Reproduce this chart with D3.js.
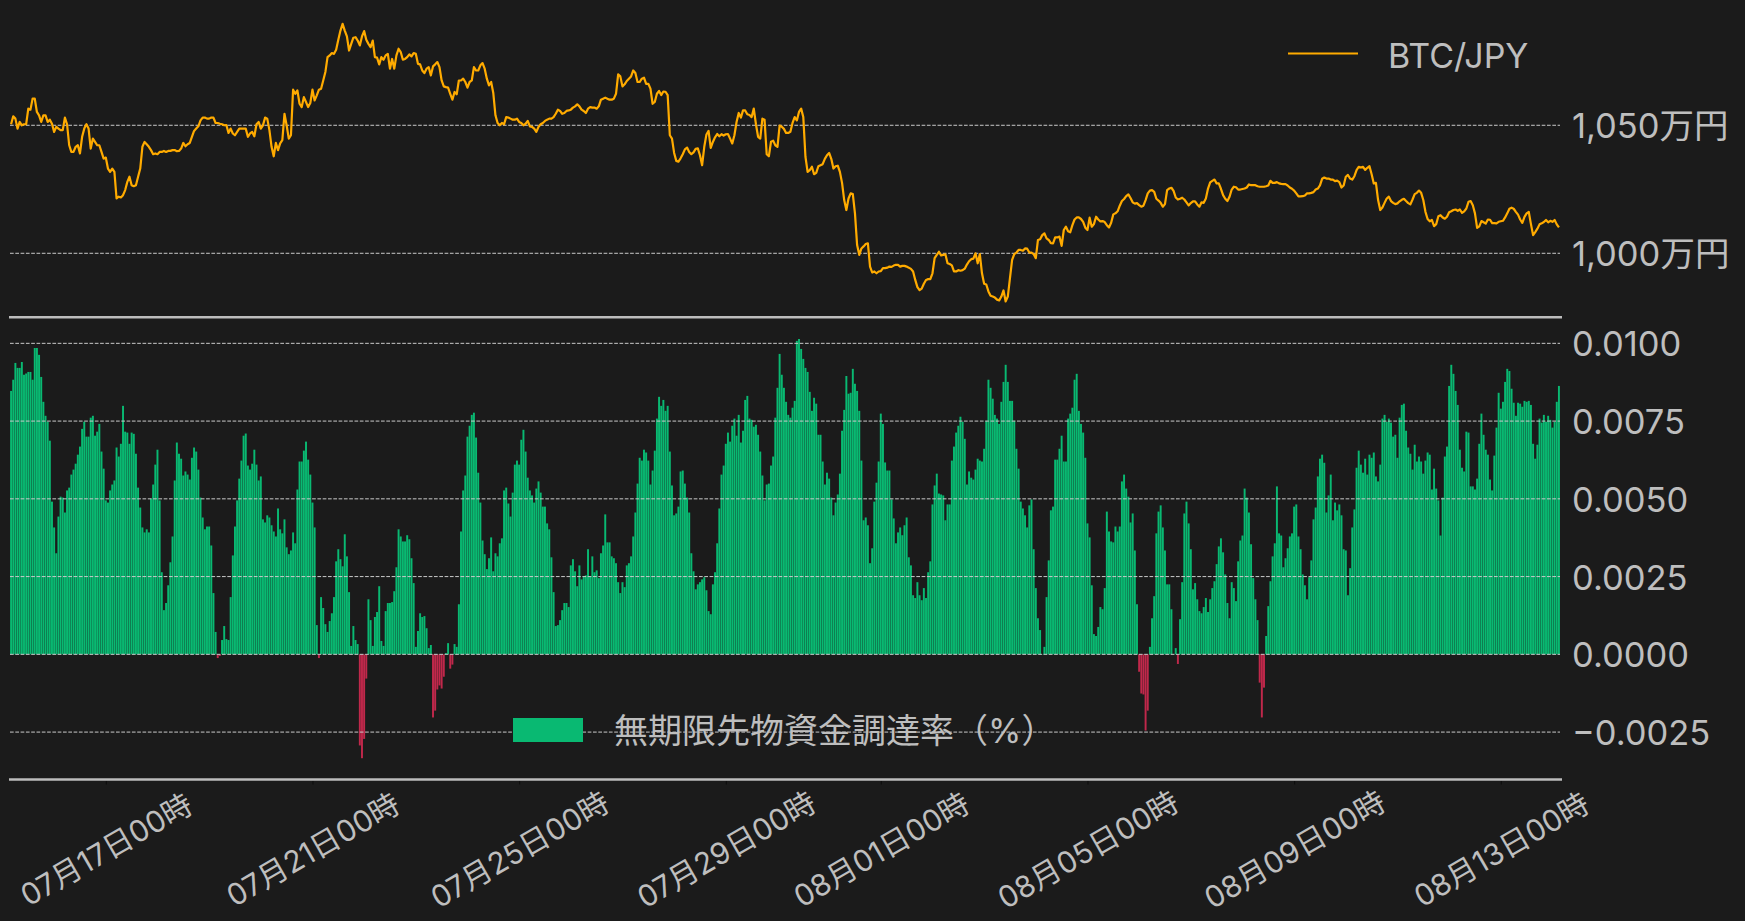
<!DOCTYPE html>
<html><head><meta charset="utf-8">
<script src="https://cdn.jsdelivr.net/npm/d3@7"></script>
<style>
html,body{margin:0;padding:0;background:#1b1b1b;}
svg{display:block;}
text{font-family:Inter,"Noto Sans CJK JP",sans-serif;fill:#bebebe;}
</style></head><body>
<svg id="chart" width="1745" height="921"></svg>
<script>
// ---- data ----
const startHour = "2024-07-15T04:00:00Z";   // first hourly sample
const hourCount = 720;
const seriesNames = ["BTC/JPY", "無期限先物資金調達率（%）"];
const priceTicks = [1000, 1050];             // 万円
const rateTicks = [-0.0025, 0, 0.0025, 0.005, 0.0075, 0.01];

// BTC/JPY hourly close, in 万円
const btcPrice = [
1050.4,1053.5,1052.6,1048.7,1051.3,1050,1050.4,1050.4,1056.5,1056.1,
1060.4,1060.4,1055.2,1053.9,1051.3,1053.9,1053.9,1051.3,1052.2,1050.6,
1047.4,1049.4,1048.7,1048.1,1048.1,1053,1050.4,1042.2,1039.6,1039.6,
1041.6,1042.2,1039,1045.5,1048.7,1050.4,1048.7,1040.9,1044.8,1043.5,
1042.2,1042.2,1039.6,1037,1037.4,1033.1,1031.8,1033.1,1031.8,1021.4,
1022.1,1021.8,1022.7,1024.7,1027.9,1029.9,1026.6,1026.2,1026.6,1029.9,
1033.1,1041.6,1043.5,1042.6,1041.6,1040.3,1038.7,1039,1038.7,1039.6,
1039.6,1040,1039.6,1040,1040,1040.3,1040.3,1039.9,1040,1040.9,
1043.1,1041.8,1042.6,1043.1,1045.5,1047.8,1048.7,1049.6,1051.9,1053,
1053,1052.6,1052.6,1053,1053,1050.9,1050.9,1050.6,1050.4,1050,
1050.1,1047,1048.7,1046.8,1046.1,1047.4,1048.7,1048.7,1048.7,1048.7,
1045.5,1046.8,1047.4,1045.7,1050.4,1051.3,1048.7,1050,1053,1052.6,
1048.1,1041.6,1037.9,1043.1,1040.3,1042.9,1044.2,1054.5,1050,1044.8,
1046.1,1063.9,1062.3,1063.6,1058.4,1057.1,1061,1059.1,1057.1,1058.7,
1063.9,1059.7,1061.7,1063.9,1064.3,1067.5,1070.8,1076.6,1077.3,1078.2,
1077.9,1079.5,1083.4,1087,1089.6,1087,1084.7,1079.2,1081.8,1084.2,
1084.4,1083.1,1081.2,1084.7,1086.8,1083.4,1081.8,1080.5,1083.1,1076.6,
1076.4,1073.8,1076.6,1075.6,1077.3,1077.9,1072.1,1075.9,1072.1,1077.3,
1079.9,1078.6,1075.6,1075.9,1076.6,1077.7,1076.9,1078.2,1077.9,1074,
1073.8,1071.4,1070.4,1072.1,1072.7,1069.5,1073,1073.8,1074.7,1072.7,
1067.5,1065.2,1064.9,1064.7,1062.3,1060,1063,1062.1,1067.5,1067.5,
1068.2,1066.9,1064.7,1066.9,1067.5,1072.7,1071.4,1071.4,1073.4,1074.3,
1072.1,1068.2,1065.6,1066.9,1062.6,1053.9,1050.9,1050,1050.9,1050.4,
1053.2,1053,1052.6,1052.2,1052.2,1052.6,1051.3,1050.9,1050,1050.6,
1051.7,1049.6,1049.4,1048.7,1047.4,1049.4,1050.4,1050.9,1051.7,1052.2,
1052.6,1052.6,1053.2,1054.5,1056.1,1055.6,1054.5,1054.8,1055.6,1055.8,
1056.1,1056.9,1057.4,1058.2,1057.4,1056.1,1055.6,1054.8,1056.5,1057.1,
1056.9,1056.9,1056.5,1057.4,1060,
1060.4,1060.8,1060.4,1060,1060,1060.4,1062.3,1069.9,1069.1,1065.2,
1066,1067.3,1068.2,1069.1,1071.4,1070.4,1066.9,1066.9,1068.2,1068.6,
1066.2,1066.2,1064.3,1058.4,1059.1,1062.3,1063.4,1061.8,1063.2,1063.1,
1061.8,1046.1,1044.8,1039.2,1036.1,1035.8,1037.1,1038.7,1040.6,1041.3,
1039.6,1038.7,1039.4,1040.8,1041,1038.3,1034.4,1041.6,1046.4,1047.8,
1041.2,1043.5,1045.3,1046.6,1045.7,1046.5,1046,1046.5,1046.6,1044.8,
1042.9,1046.1,1051.3,1054.8,1053,1055.8,1055.8,1054.3,1054,1053.2,
1056.5,1050.4,1045.5,1044.8,1052.6,1052.2,1038.7,1037.9,1043.6,1044,
1042.2,1041.6,1049.9,1049.4,1048.6,1047,1047,1047.5,1050.9,1053.2,
1051.9,1055.2,1056.5,1053.2,1037.7,1031.8,1032.5,1033.8,1030.9,1031.4,
1034,1034.4,1034.8,1036.9,1038.3,1039.2,1036.9,1033.1,1034,1034.2,
1031.8,1027.5,1020.8,1016.9,1021.4,1023.4,1023.1,1015.6,1003.2,999.4,
1001.9,1002.7,1003.6,1003.9,994.8,992.5,992.9,992.2,992.9,993,
994.2,994.2,994.4,994.8,994.7,995.2,995.5,995.5,994.8,995.1,
995.1,994.8,994.4,993.9,992.9,989.6,986.8,985.6,986.2,988.1,
989.6,989.9,989.9,992.2,998.1,999.4,1000.6,999.2,999.4,999.6,
996.1,995.8,995.3,992.9,992.9,993.4,993.2,993.4,994,995.6,
996.9,997.7,997.9,1000,996.1,999.7,992.2,988.1,987.8,985.1,
983.4,983.1,982.7,981.9,981.6,983.1,985.5,981.2,983.1,990.3,
997.4,999.7,1000.3,1001.3,1001.3,1001,1001.9,1001.8,1000.3,1000.3,
999.7,998.1,1005.2,1005.5,1007.1,1007.8,1005.8,1005.2,1004,1003.9,
1006.2,1006.2,1006.5,1002.9,1009.1,1010.4,1008.6,1008.2,1011,1013.2,
1014,1014,1013.4,1012.3,1010,1009.1,1013.9,1010.4,1011.4,1014.3,
1013.2,1012.5,1012.6,1012.2,1011,1010.1,1011.9,1015.2,1015.6,1016.4,
1018.6,1020.4,1021.2,1022.3,1023,1021.6,1019.9,1019.4,1019.6,1018.8,
1018.2,1018.6,1020.8,1023.4,1024.5,1024.7,1024,1021.3,1020.6,1019.7,
1018.2,1019.2,1024.7,1025.3,1025.6,1024.4,1021.8,1021,
1021.3,1021.7,1021,1019.9,1018.7,1019.6,1020.3,1020.3,1019.1,1018.2,
1019.9,1019.7,1021.4,1025.3,1027.7,1028.3,1028.8,1027.3,1027.3,1025.2,
1022.7,1021.3,1020.4,1022.1,1024.9,1026,1025.8,1024.9,1024.9,1025.1,
1025.3,1025.7,1026.9,1026.6,1026.6,1026.6,1026.2,1026,1026,1026,
1026.2,1026.5,1028.3,1027.5,1027.5,1027.8,1027.3,1027.1,1027,1027,
1026.5,1025.7,1025.2,1024.5,1023.4,1022.2,1022.2,1022.3,1022.6,1023.4,
1023.4,1023.6,1023.9,1024.9,1025.3,1026.5,1029.1,1029.6,1029.2,1029.2,
1028.8,1028.8,1028.2,1028.4,1027.8,1025.7,1026.5,1029.9,1030.6,1029.2,
1028.8,1030.1,1032.5,1033.8,1033.5,1033.8,1032.6,1033.4,1034,1030.9,
1027.3,1027.5,1020.8,1016.9,1017.9,1019.7,1021.4,1022.1,1020.4,1019.7,
1019.2,1019.5,1020.3,1020.9,1021.3,1020.4,1019.6,1019.1,1021,1023.1,
1023.6,1024.5,1023.6,1020.8,1016.2,1013.4,1012.5,1013,1010.6,1011.4,
1014.5,1014.9,1014,1013.5,1014.3,1016,1016.4,1016.9,1017.1,1016.6,
1017.1,1015.8,1016.4,1017.5,1020.1,1020.4,1018.8,1015.6,1009.9,1010.5,
1012.6,1012.1,1011.6,1013.2,1013.1,1011.8,1011.8,1011.7,1012.3,1012.5,
1012.7,1014,1015.6,1017.4,1017.8,1017.4,1016.2,1015.1,1013.2,1011.9,
1014.2,1015.6,1016.2,1011.4,1007.1,1008.3,1009.6,1011.3,1011.7,1012.2,
1013,1012.1,1012.7,1012.3,1013,1011.3,1010.1
];

// perpetual futures funding rate (%), hourly
const fundingRate = [
0.00847,0.00883,0.00937,0.00921,0.00921,0.0094,0.00899,0.00903,0.00908,0.00908,
0.00883,0.00985,0.00985,0.00963,0.00892,0.00812,0.00767,0.00748,0.00687,0.00491,
0.00408,0.00325,0.00443,0.00507,0.00504,0.00456,0.00527,0.00536,0.00578,0.00594,
0.00613,0.00642,0.00668,0.00725,0.00748,0.007,0.007,0.00761,0.00767,0.00703,
0.00716,0.00741,0.00652,0.00597,0.00495,0.00488,0.00527,0.00546,0.00559,0.00665,
0.00636,0.00677,0.00799,0.00716,0.00713,0.00677,0.00713,0.00709,0.00645,0.00536,
0.00472,0.00408,0.00392,0.00402,0.00392,0.00501,0.00546,0.0061,0.00658,0.00495,
0.00264,0.00142,0.00165,0.00222,0.00296,0.00379,0.00559,0.00681,0.00645,0.00629,
0.00575,0.00588,0.00578,0.00562,0.00632,0.00665,0.00652,0.00594,0.00504,0.0044,
0.00402,0.00411,0.00411,0.0035,0.00197,0.00072,-0.00012,-0.00005,0.00046,0.00091,
0.00049,0.00046,0.00184,0.00318,0.00411,0.00495,0.00565,0.00623,0.00703,0.0071,
0.00607,0.00594,0.00613,0.00658,0.0061,0.00559,0.00572,0.00434,0.00424,0.00447,
0.0044,0.00415,0.00395,0.00379,0.00469,0.00402,0.00389,0.00434,0.00344,0.00322,
0.00334,0.00392,0.00357,0.0053,0.0062,0.0062,0.00655,0.00684,0.00626,0.00578,
0.00488,0.00408,0.00094,-0.00012,0.00184,0.00149,0.00097,0.00072,0.00107,0.00132,
0.00184,0.00299,0.00338,0.00306,0.00283,0.00386,0.00315,0.002,0.00027,0.00091,
0.00046,0.00033,-0.00293,-0.00334,-0.00272,-0.00078,0.00177,0.0011,0.00027,0.0012,
0.00136,0.00219,0.00043,0.00027,0.00139,0.00165,0.00165,0.00168,0.00203,0.0028,
0.00402,
0.00379,0.00363,0.00363,0.00383,0.0037,0.00309,0.00229,0.00024,0.00075,0.00132,
0.0012,0.00123,0.00084,0.0002,0.0003,-0.00203,-0.00181,-0.00113,-0.001,-0.0011,
-0.00072,0.00004,0.00036,-0.00046,-0.00033,0.00033,0.00024,0.00161,0.00395,0.00527,
0.00575,0.007,0.00735,0.0077,0.00777,0.00697,0.00584,0.00488,0.00366,0.00322,
0.00274,0.00309,0.00376,0.00267,0.00325,0.00315,0.00357,0.00373,0.00527,0.00536,
0.00485,0.00443,0.0052,0.0061,0.00623,0.0061,0.0069,0.00722,0.00652,0.00568,
0.00527,0.00511,0.00488,0.00533,0.00556,0.0052,0.00475,0.00475,0.00421,0.00402,
0.00312,0.002,0.00091,0.00094,0.0011,0.00142,0.00165,0.00165,0.00152,0.00286,
0.00306,0.00267,0.00219,0.00286,0.00241,0.00251,0.00254,0.00338,0.00251,0.00315,
0.00264,0.0027,0.00245,0.00325,0.0035,0.0045,0.0036,0.0036,0.00315,0.00309,
0.00293,0.00232,0.00197,0.00232,0.00216,0.00286,0.00293,0.00315,0.00379,0.00456,
0.00549,0.00632,0.00623,0.00658,0.00649,0.00623,0.00546,0.00591,0.00655,0.00758,
0.00828,0.00799,0.00818,0.00783,0.00799,0.00652,0.00543,0.00447,0.00453,0.00475,
0.00588,0.00591,0.00549,0.00504,0.00456,0.00325,0.00267,0.00209,0.00225,0.00232,
0.00241,0.00248,0.00206,0.00139,0.00129,0.00225,0.00264,0.00357,0.00469,0.00578,
0.00607,0.00677,0.00713,0.00684,0.00735,0.00758,0.00703,0.0077,0.00681,0.00719,
0.00818,0.00831,0.00758,0.00754,0.00732,0.00738,0.00706,0.00652,0.00575,0.00495,
0.00546,0.00549,0.00607,0.00636,0.00761,0.00857,0.00966,0.00899,0.00857,0.00812,
0.0077,0.00761,0.00793,0.00815,0.01008,0.01014,0.00982,0.0095,0.00921,0.00908,
0.00844,0.00783,0.00825,0.00806,0.00706,0.00706,0.0062,0.00546,0.00584,0.00565,
0.00504,0.00447,0.00488,0.00514,0.00581,0.00719,0.00786,0.00895,0.00838,0.00841,
0.00918,0.0087,0.00847,0.00783,0.00623,0.00431,0.0044,0.00415,0.00293,0.00341,
0.00491,0.00552,0.0062,0.00774,0.00741,0.00617,0.00591,0.00591,0.00498,0.00437,
0.00357,0.00392,0.00408,0.00383,0.00415,0.0044,0.00312,0.00286,0.0019,0.00181,
0.00232,0.0019,0.00174,0.00213,0.00181,0.00264,0.00299,0.00482,0.00543,0.00581,
0.00517,0.00514,0.00511,0.00431,0.00482,0.00482,0.00623,0.00668,0.00713,0.00735,
0.00764,0.00748,0.00693,0.00546,0.00588,0.00568,0.00562,0.00594,0.00629,0.00623,
0.0062,0.00661,0.00751,0.00883,0.00857,0.00822,0.0077,0.00758,0.00741,0.00812,
0.00876,0.00931,0.00876,0.00815,0.00815,0.00751,0.00661,0.00597,0.00491,0.00469,
0.00447,0.00408,0.00479,0.00498,0.00338,0.00213,0.00116,0.00078,0.00001,0.00024,
0.00184,0.00302,0.00463,0.00475,0.00626,0.00626,0.00661,0.00703,0.0062,0.0062,
0.00758,0.00774,0.00793,0.00883,0.00902,0.00783,0.00741,0.00713,0.00632,0.00421,
0.00376,0.00222,0.00065,0.00059,0.00088,0.00152,0.00145,0.00213,0.00459,0.00395,
0.00363,0.0036,0.00411,0.00395,0.00411,0.00556,0.00578,0.00533,0.00507,0.00424,
0.00453,0.00334,0.00161,-0.00056,-0.00126,-0.00129,-0.00245,-0.00181,0.00024,0.00116,
0.00187,0.00389,0.00459,0.00479,0.00408,0.00334,0.00225,0.00225,0.00145,
0.00001,0.0002,-0.00031,0.00113,0.00232,0.00453,0.00491,0.00421,0.00338,0.00209,
0.00229,0.00177,0.00139,0.00132,0.00152,0.00181,0.00136,0.00177,0.00213,0.00235,
0.0029,0.00347,0.00373,0.00328,0.00257,0.00165,0.00116,0.00232,0.00213,0.00171,
0.00299,0.00366,0.00382,0.00533,0.00504,0.00456,0.00354,0.00245,0.00177,0.0011,
-0.00091,-0.00203,-0.00107,0.00059,0.00155,0.00235,0.00315,0.00357,0.0054,0.00389,
0.00382,0.0028,0.00309,0.00341,0.00379,0.00389,0.00475,0.00482,0.00379,0.00338,
0.00257,0.00222,0.00177,0.00248,0.00302,0.00434,0.00472,0.00572,0.00629,0.00642,
0.00616,0.00456,0.00511,0.00578,0.00431,0.00488,0.00463,0.00482,0.00447,0.00338,
0.00334,0.0019,0.00277,0.00408,0.00466,0.006,0.00655,0.0061,0.00584,0.00629,
0.00578,0.00642,0.00632,0.00649,0.00572,0.00556,0.0061,0.00758,0.0077,0.00748,
0.00758,0.00745,0.007,0.00706,0.00632,0.00761,0.00802,0.00806,0.00719,0.00665,
0.00645,0.00594,0.00674,0.0062,0.00636,0.0062,0.00581,0.00623,0.00649,0.00642,
0.0053,0.00597,0.00533,0.00495,0.00382,0.00504,0.00636,0.00668,0.00863,0.00931,
0.00902,0.00847,0.00802,0.00658,0.006,0.00588,0.00716,0.00713,0.0054,0.0054,
0.0053,0.00565,0.00677,0.00774,0.00706,0.00658,0.00642,0.00562,0.00527,0.00639,
0.00729,0.00841,0.0079,0.00812,0.00876,0.00918,0.00911,0.00854,0.00809,0.00767,
0.00809,0.00806,0.00796,0.00815,0.00812,0.00815,0.00802,0.00677,0.00629,0.00674,
0.00758,0.00745,0.0077,0.00748,0.00767,0.00754,0.00729,0.00748,0.00812,0.00863
];

// ---- layout / style ----
const W = 1745, H = 921;
const plotLeft = 10, plotRight = 1560;
const col = {bg:"#1b1b1b", line:"#ffab00", up:"#09b972", down:"#c0284b", grid:"#cacaca", spine:"#bdbdbd", text:"#bebebe"};
const fontFam = 'Inter, "Noto Sans CJK JP", sans-serif';

const svg = d3.select("#chart");
svg.append("rect").attr("width", W).attr("height", H).attr("fill", col.bg);

const t0 = new Date(startHour);
const times = d3.range(hourCount).map(i => d3.utcHour.offset(t0, i));
const priceData = times.map((t, i) => ({t, v: btcPrice[i]}));
const rateData = times.map((t, i) => ({t, v: fundingRate[i]}));

const x = d3.scaleUtc()
  .domain([d3.utcMinute.offset(times[0], -30), d3.utcMinute.offset(times[hourCount - 1], 30)])
  .range([plotLeft, plotRight]);
const step = x(times[1]) - x(times[0]);

const yP = d3.scaleLinear().domain([975.04, 1095.3]).range([317.2, 9.3]);
const yR = d3.scaleLinear().domain([-0.004028, 0.010879]).range([779.6, 316]);

const dash = "3.7,1.6";

// ---- upper panel ----
const gUp = svg.append("g");
gUp.selectAll("line.grid").data(priceTicks).join("line")
  .attr("x1", plotLeft).attr("x2", plotRight)
  .attr("y1", d => yP(d)).attr("y2", d => yP(d))
  .attr("stroke", col.grid).attr("stroke-width", 1).attr("stroke-dasharray", dash);

gUp.append("path").datum(priceData)
  .attr("fill", "none").attr("stroke", col.line).attr("stroke-width", 2.2)
  .attr("stroke-linejoin", "round")
  .attr("d", d3.line().x(d => x(d.t)).y(d => yP(d.v)));

const axP = svg.append("g").attr("transform", `translate(${plotRight},0)`)
  .call(d3.axisRight(yP).tickValues(priceTicks).tickSize(0).tickPadding(12)
    .tickFormat(d => d3.format(",")(d) + "万円"));
axP.select(".domain").remove();
axP.selectAll("text").attr("font-size", 34.5).attr("fill", col.text)
  .attr("dy", null).attr("dominant-baseline", "central")
  .style("font-family", fontFam);

svg.append("line").attr("x1", 9).attr("x2", 1562).attr("y1", 317.2).attr("y2", 317.2)
  .attr("stroke", col.spine).attr("stroke-width", 2.4);

// legend upper
svg.append("line").attr("x1", 1288).attr("x2", 1358).attr("y1", 53.5).attr("y2", 53.5)
  .attr("stroke", col.line).attr("stroke-width", 2.2);
svg.append("text").attr("x", 1388).attr("y", 55).attr("dominant-baseline", "central")
  .attr("font-size", 34).style("font-family", fontFam).text(seriesNames[0]);

// ---- lower panel ----
const gLo = svg.append("g");
const bw = step * 0.9;
gLo.selectAll("rect.bar").data(rateData).join("rect")
  .attr("x", d => x(d.t) - bw / 2)
  .attr("width", bw)
  .attr("y", d => yR(Math.max(0, d.v)))
  .attr("height", d => Math.abs(yR(d.v) - yR(0)))
  .attr("fill", d => d.v >= 0 ? col.up : col.down);

gLo.selectAll("line.grid").data(rateTicks).join("line")
  .attr("x1", plotLeft).attr("x2", plotRight)
  .attr("y1", d => yR(d)).attr("y2", d => yR(d))
  .attr("stroke", col.grid).attr("stroke-width", 1).attr("stroke-dasharray", dash);

const axR = svg.append("g").attr("transform", `translate(${plotRight},0)`)
  .call(d3.axisRight(yR).tickValues(rateTicks).tickSize(0).tickPadding(12)
    .tickFormat(d3.format(".4f")));
axR.select(".domain").remove();
axR.selectAll("text").attr("font-size", 34.5).attr("fill", col.text)
  .attr("dy", null).attr("dominant-baseline", "central")
  .style("font-family", fontFam);

// bottom spine + x axis
const axX = svg.append("g").attr("transform", "translate(0,780.5)")
  .call(d3.axisBottom(x).ticks(d3.utcDay.every(4)).tickSize(4).tickSizeOuter(0)
    .tickFormat(d3.utcFormat("%m月%d日%H時")));
axX.select(".domain").remove();
axX.selectAll(".tick line").attr("stroke", "#0c0c0c").attr("stroke-width", 1);
axX.selectAll("text").attr("font-size", 30).attr("fill", col.text)
  .attr("y", 0).attr("dy", null).attr("text-anchor", "middle")
  .attr("dominant-baseline", "central")
  .attr("transform", "translate(0,69) rotate(-30)")
  .style("font-family", fontFam);

svg.append("line").attr("x1", 9).attr("x2", 1562).attr("y1", 779.5).attr("y2", 779.5)
  .attr("stroke", col.spine).attr("stroke-width", 2.4);

// legend lower
svg.append("rect").attr("x", 513).attr("y", 718).attr("width", 70).attr("height", 24).attr("fill", col.up);
svg.append("text").attr("x", 614).attr("y", 730).attr("dominant-baseline", "central")
  .attr("font-size", 34).style("font-family", fontFam).text(seriesNames[1]);
</script>
</body></html>
